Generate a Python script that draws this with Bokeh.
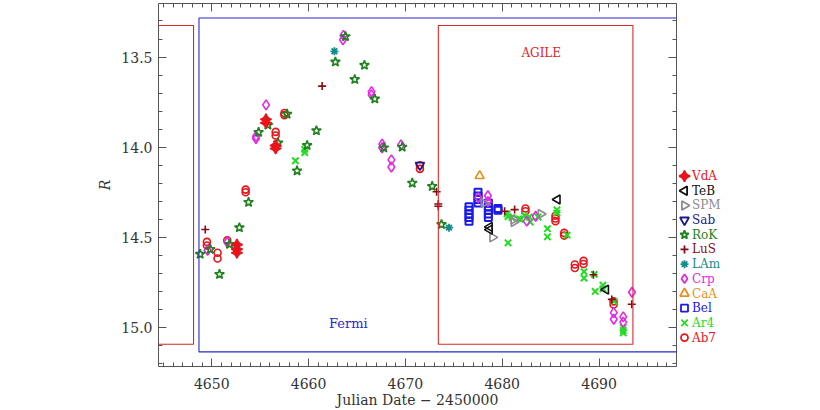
import numpy as np
from bokeh.plotting import figure
from bokeh.layouts import row
from bokeh.core.properties import value
from bokeh.models import (Range1d, LinearAxis, SingleIntervalTicker, PrintfTickFormatter,
                          Label, BoxAnnotation)
from bokeh.embed import file_html
from bokeh.resources import INLINE

# ---------------- data (JD - 2450000, R magnitude) ----------------
vda_x = [4652.6, 4652.6, 4652.6, 4655.6, 4655.6, 4656.6, 4656.6]
vda_y = [14.54, 14.565, 14.585, 13.845, 13.865, 13.99, 14.007]

teb_x = [4678.7, 4678.7, 4685.7, 4690.7]
teb_y = [14.442, 14.457, 14.29, 14.79]

spm_x = [4678.1, 4679.0, 4681.2, 4681.2, 4684.0]
spm_y = [14.31, 14.50, 14.40, 14.415, 14.37]

sab_x = [4671.5]
sab_y = [14.10]

rok_x = [4648.8, 4649.85, 4650.8, 4651.84, 4652.85, 4653.8, 4654.84, 4655.8, 4656.85,
         4657.78, 4658.81, 4659.85, 4660.81, 4662.77, 4663.81, 4664.77, 4665.77,
         4666.84, 4667.77, 4669.67, 4670.71, 4672.77, 4673.73]
rok_y = [14.593, 14.566, 14.705, 14.538, 14.446, 14.305, 13.917, 13.877, 13.976,
         13.816, 14.131, 13.99, 13.908, 13.527, 13.386, 13.624, 13.545,
         13.732, 14.003, 13.999, 14.199, 14.217, 14.428]

lus_x = [4649.33, 4661.4, 4673.22, 4673.4, 4673.4, 4680.25, 4681.28, 4689.42, 4691.32, 4693.38]
lus_y = [14.456, 13.661, 14.247, 14.315, 14.327, 14.355, 14.346, 14.707, 14.844, 14.871]

lam_x = [4662.67, 4674.5]
lam_y = [13.468, 14.446]

crp_x = [4649.57, 4651.6, 4654.57, 4654.57, 4655.61, 4663.6, 4663.55, 4666.5, 4666.5,
         4667.6, 4667.6, 4668.55, 4668.55, 4669.55, 4677.53, 4678.52, 4678.52,
         4682.53, 4683.46, 4691.52, 4691.52, 4692.5, 4692.5, 4693.4]
crp_y = [14.571, 14.527, 13.94, 13.952, 13.765, 13.38, 13.404, 13.692, 13.71,
         13.983, 14.003, 14.07, 14.11, 13.987, 14.28, 14.269, 14.302,
         14.41, 14.383, 14.917, 14.954, 14.941, 14.97, 14.804]

caa_x = [4677.67]
caa_y = [14.159]

bel_x = [4676.57, 4676.57, 4676.57, 4676.57, 4676.57,
         4677.5, 4677.5, 4677.5, 4677.5,
         4678.57, 4678.57, 4678.57, 4678.57, 4678.57,
         4679.56, 4679.56]
bel_y = [14.33, 14.35, 14.37, 14.39, 14.41,
         14.25, 14.27, 14.29, 14.31,
         14.31, 14.33, 14.35, 14.37, 14.39,
         14.34, 14.35]

ar4_x = [4658.64, 4659.6, 4659.6, 4680.5, 4680.6, 4680.6, 4681.0, 4681.7, 4681.9, 4682.3,
         4682.8, 4682.9, 4683.7, 4684.67, 4684.67, 4685.65, 4685.65, 4686.7, 4688.45,
         4688.45, 4689.5, 4689.6, 4690.4, 4690.4, 4691.55, 4692.5, 4692.5, 4692.5]
ar4_y = [14.075, 14.012, 14.03, 14.37, 14.385, 14.53, 14.39, 14.397, 14.40, 14.38,
         14.387, 14.415, 14.387, 14.452, 14.497, 14.347, 14.365, 14.487, 14.69,
         14.726, 14.705, 14.8, 14.765, 14.785, 14.855, 15.0, 15.016, 15.03]

ab7_x = [4649.5, 4649.5, 4650.6, 4650.6, 4651.6, 4653.5, 4653.5, 4656.6, 4656.6,
         4657.5, 4657.5, 4671.5, 4671.5, 4682.4, 4682.4, 4685.5, 4685.5, 4685.5,
         4686.4, 4686.4, 4687.5, 4687.5, 4688.4, 4688.4, 4691.5, 4691.5]
ab7_y = [14.525, 14.545, 14.585, 14.617, 14.516, 14.235, 14.25, 13.915, 13.935,
         13.81, 13.822, 14.10, 14.12, 14.34, 14.355, 14.38, 14.395, 14.41,
         14.475, 14.49, 14.65, 14.67, 14.63, 14.648, 14.855, 14.872]

# observing windows (JD - 2450000, R)
agile_x = [4673.4, 4693.5]
agile_y = [13.325, 15.093]
agile_prev_x = [4630.0, 4648.12]
fermi_x = [4648.68, 4720.0]
fermi_y = [13.283, 15.135]

legend_order = ["VdA", "TeB", "SPM", "Sab", "RoK", "LuS", "LAm", "Crp", "CaA", "Bel", "Ar4", "Ab7"]

x_start, x_end = 4644.5, 4698.0
y_top, y_bottom = 13.203, 15.216

FONT = "DejaVu Serif"
AX = "#555555"
W, H = 820, 410
MAIN_W = 678
TOP, BOTTOM = 3, 41

p = figure(width=MAIN_W, height=H, output_backend="svg", toolbar_location=None,
           x_range=Range1d(x_start, x_end), y_range=Range1d(y_bottom, y_top),
           x_axis_type=None, y_axis_type=None,
           min_border_left=158, min_border_right=2, min_border_top=TOP, min_border_bottom=BOTTOM)
p.outline_line_color = None
p.background_fill_color = "white"


def style(ax, labels=True):
    ax.axis_line_color = AX
    ax.major_tick_line_color = AX
    ax.minor_tick_line_color = AX
    ax.major_tick_in = 8
    ax.major_tick_out = 0
    ax.minor_tick_in = 4
    ax.minor_tick_out = 0
    ax.major_label_text_font = FONT
    if labels:
        ax.major_label_text_color = "#333333"
        ax.major_label_text_font_size = "14px"
    else:
        ax.major_label_text_color = None
        ax.major_label_text_font_size = "1px"
        ax.major_label_standoff = 0


xt = dict(interval=10, num_minor_ticks=10)
yt = dict(interval=0.5, num_minor_ticks=5)

xb = LinearAxis(ticker=SingleIntervalTicker(**xt), formatter=PrintfTickFormatter(format="%d"),
                axis_label="Julian Date \u2212 2450000")
style(xb)
xb.major_label_standoff = 11
xb.axis_label_standoff = 0
xb.axis_label_text_font = FONT
xb.axis_label_text_font_style = "normal"
xb.axis_label_text_font_size = "14px"
xb.axis_label_text_color = "#333333"
p.add_layout(xb, "below")

yl = LinearAxis(ticker=SingleIntervalTicker(**yt), formatter=PrintfTickFormatter(format="%.1f"),
                axis_label="R")
style(yl)
yl.major_label_standoff = 6
yl.axis_label_standoff = 5
yl.axis_label_text_font = FONT
yl.axis_label_text_font_style = "italic"
yl.axis_label_text_font_size = "14px"
yl.axis_label_text_color = "#333333"
p.add_layout(yl, "left")

xa = LinearAxis(ticker=SingleIntervalTicker(**xt))
style(xa, labels=False)
p.add_layout(xa, "above")
yr = LinearAxis(ticker=SingleIntervalTicker(**yt))
style(yr, labels=False)
p.add_layout(yr, "right")

RED_BOX = "#dc2828"
BLUE_BOX = "#2828cc"
box_style = dict(fill_alpha=0, line_alpha=1.0, line_width=1.1)
p.add_layout(BoxAnnotation(left=agile_x[0], right=agile_x[1], top=agile_y[0], bottom=agile_y[1],
                           line_color=RED_BOX, **box_style))
p.add_layout(BoxAnnotation(left=agile_prev_x[0], right=agile_prev_x[1], top=agile_y[0], bottom=agile_y[1],
                           line_color=RED_BOX, **box_style))
p.add_layout(BoxAnnotation(left=fermi_x[0], right=fermi_x[1], top=fermi_y[0], bottom=fermi_y[1],
                           line_color=BLUE_BOX, **box_style))

p.add_layout(Label(x=4664.1, y=14.978, text="Fermi", text_align="center", text_baseline="middle",
                   text_color=BLUE_BOX, text_font=FONT, text_font_size="13px"))
p.add_layout(Label(x=4684.03, y=13.475, text="AGILE", text_align="center", text_baseline="middle",
                   text_color=RED_BOX, text_font=FONT, text_font_size="12px"))

# name -> (x, y, marker, color, size, angle, filled, line width)
series = {
    "Ab7": (ab7_x, ab7_y, "circle", "#e8141c", 7, 0, False, 1.6),
    "Ar4": (ar4_x, ar4_y, "x", "#22dd22", 9, 0, False, 2.0),
    "Bel": (bel_x, bel_y, "square", "#1a1ae6", 7, 0, False, 2.0),
    "CaA": (caa_x, caa_y, "triangle", "#e8901c", 9, 0, False, 1.6),
    "Crp": (crp_x, crp_y, "diamond", "#e628e6", 10, 0, False, 1.6),
    "LAm": (lam_x, lam_y, "asterisk", "#148c8c", 8, 0, False, 1.8),
    "LuS": (lus_x, lus_y, "cross", "#8c0a14", 8, 0, False, 1.6),
    "RoK": (rok_x, rok_y, "star", "#1e821e", 10, 0, False, 1.6),
    "Sab": (sab_x, sab_y, "inverted_triangle", "#1a1a8c", 9, 0, False, 1.6),
    "SPM": (spm_x, spm_y, "triangle", "#8c8c8c", 9, -np.pi / 2, False, 1.6),
    "TeB": (teb_x, teb_y, "triangle", "#111111", 9, np.pi / 2, False, 1.6),
    "VdA": (vda_x, vda_y, "square_pin", "#e8141c", 8, np.pi / 4, True, 1.6),
}

for name in reversed(legend_order):
    xs, ys, marker, color, size, ang, filled, lw = series[name]
    p.scatter(xs, ys, marker=marker, size=size, angle=ang, line_color=color, line_width=lw,
              fill_color=color if filled else None)

# ---------------- legend panel (pixel coordinates; frame aligned with main frame) ----------------
lg = figure(width=W - MAIN_W, height=H, output_backend="svg", toolbar_location=None,
            x_range=Range1d(MAIN_W, W), y_range=Range1d(H - BOTTOM, TOP),
            x_axis_type=None, y_axis_type=None,
            min_border_left=0, min_border_right=0, min_border_top=TOP, min_border_bottom=BOTTOM)
lg.outline_line_color = None
lg.grid.visible = False

marker_x = 684
text_x = 691.5
first_y = 177.0
step = 14.8
for i, name in enumerate(legend_order):
    xs, ys, marker, color, size, ang, filled, lw = series[name]
    yy = first_y + i * step
    lg.scatter([marker_x], [yy], marker=marker, size=min(size, 9), angle=ang, line_color=color,
               line_width=1.8, fill_color=color if filled else None)
    lg.text([text_x], [yy], text=[name], text_color=color, text_font=value(FONT),
            text_font_size="12px", text_baseline="middle", text_align="left")

layout = row(p, lg, spacing=0)
open("out.html", "w").write(file_html(layout, INLINE))
